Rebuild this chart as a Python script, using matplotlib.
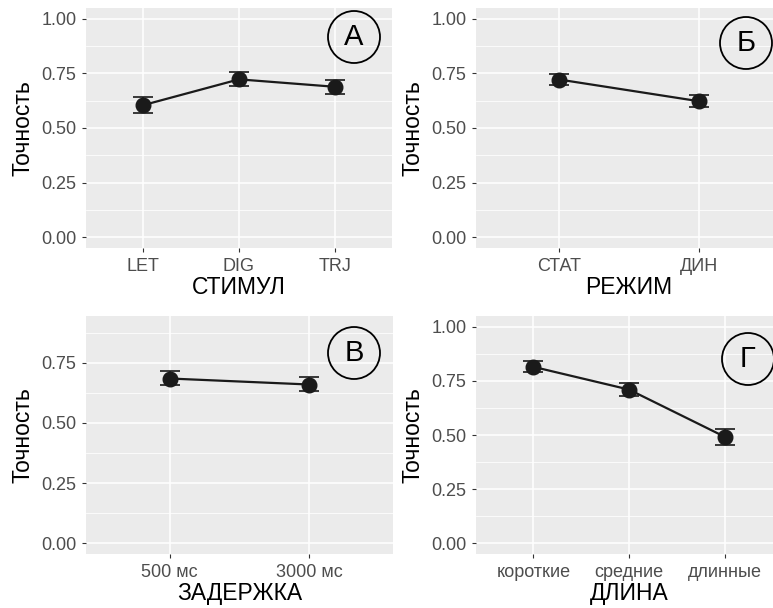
import matplotlib
matplotlib.use("Agg")
import matplotlib.pyplot as plt
from matplotlib.patches import Ellipse
from matplotlib.ticker import MultipleLocator

plt.rcParams['font.family'] = ['Liberation Sans', 'DejaVu Sans']

# data: mean, lower and upper error bound
stim_cats = ['LET', 'DIG', 'TRJ']
stim_mean = [0.605, 0.723, 0.689]
stim_lo   = [0.570, 0.694, 0.654]
stim_hi   = [0.644, 0.756, 0.722]

mode_cats = ['СТАТ', 'ДИН']
mode_mean = [0.722, 0.623]
mode_lo   = [0.696, 0.598]
mode_hi   = [0.748, 0.650]

delay_cats = ['500 мс', '3000 мс']
delay_mean = [0.685, 0.660]
delay_lo   = [0.660, 0.634]
delay_hi   = [0.717, 0.691]

len_cats = ['короткие', 'средние', 'длинные']
len_mean = [0.815, 0.710, 0.492]
len_lo   = [0.789, 0.678, 0.455]
len_hi   = [0.842, 0.740, 0.527]

W, H = 773, 608
fig = plt.figure(figsize=(W / 100, H / 100), dpi=100)
fig.patch.set_facecolor('white')


def px_axes(l, t, r, b):
    return fig.add_axes([l / W, 1 - b / H, (r - l) / W, (b - t) / H])


def panel(ax, cats, mean, lo, hi, xlabel, ylim, letter, cx, cy):
    x = list(range(len(cats)))
    ax.set_facecolor('#ebebeb')
    for s in ax.spines.values():
        s.set_visible(False)
    ax.set_xlim(-0.6, len(cats) - 1 + 0.6)
    rng = ylim[1] - ylim[0]
    ax.set_ylim(ylim[0] - 0.05 * rng, ylim[1] + 0.05 * rng)
    ax.yaxis.set_major_locator(MultipleLocator(0.25))
    ax.yaxis.set_minor_locator(MultipleLocator(0.125))
    ax.set_xticks(x)
    ax.set_xticklabels(cats)
    ax.yaxis.set_major_formatter(matplotlib.ticker.FormatStrFormatter('%.2f'))
    ax.grid(True, which='major', color='white', lw=1.1)
    ax.grid(True, which='minor', axis='y', color='white', lw=0.55)
    ax.set_axisbelow(True)
    ax.tick_params(which='major', length=3, width=0.8, color='#333333',
                   labelsize=13, labelcolor='#4d4d4d', pad=4)
    ax.tick_params(which='minor', length=0)
    yerr = [[m - l for m, l in zip(mean, lo)], [h - m for m, h in zip(mean, hi)]]
    ax.errorbar(x, mean, yerr=yerr, fmt='none', ecolor='#1a1a1a',
                elinewidth=1.2, capsize=7, capthick=1.2, zorder=3)
    ax.plot(x, mean, color='#1a1a1a', lw=1.6, marker='o', ms=10.5,
            zorder=4)
    ax.set_xlabel(xlabel, fontsize=16.5, color='black', labelpad=1)
    ax.set_ylabel('Точность', fontsize=16.5, color='black', labelpad=5)
    r = 26
    fig.add_artist(Ellipse((cx / W, 1 - cy / H), 2 * r / W, 2 * r / H,
                           fill=False, ec='black', lw=1.3))
    fig.text(cx / W, 1 - cy / H, letter, fontsize=21, ha='center',
             va='center', color='black')


axA = px_axes(86, 8, 392, 248)
panel(axA, stim_cats, stim_mean, stim_lo, stim_hi, 'СТИМУЛ', (0, 1),
      'А', 354, 37)
axB = px_axes(476, 8, 782, 248)
panel(axB, mode_cats, mode_mean, mode_lo, mode_hi, 'РЕЖИМ', (0, 1),
      'Б', 746, 43)
axC = px_axes(86, 316, 393, 554)
panel(axC, delay_cats, delay_mean, delay_lo, delay_hi, 'ЗАДЕРЖКА', (0, 0.9),
      'В', 354, 353)
axD = px_axes(476, 316, 782, 554)
panel(axD, len_cats, len_mean, len_lo, len_hi, 'ДЛИНА', (0, 1),
      'Г', 748, 359)

fig.savefig('out.png', dpi=100)
